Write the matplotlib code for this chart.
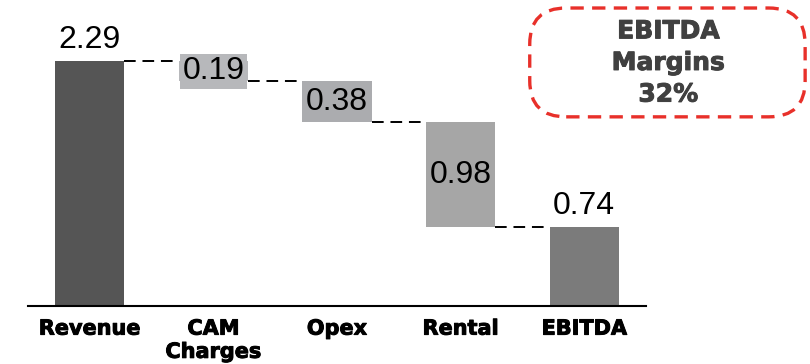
import matplotlib.pyplot as plt
import matplotlib.patheffects as pe
from matplotlib.patches import FancyBboxPatch

# data
cats = ['Revenue', 'CAM\nCharges', 'Opex', 'Rental', 'EBITDA']
vals = [2.29, 0.19, 0.38, 0.98, 0.74]
kinds = ['total', 'minus', 'minus', 'minus', 'total']
colors = ['#555555', '#b7b8bb', '#abacaf', '#a6a6a6', '#7b7b7b']
margin_text = 'EBITDA\nMargins\n32%'

fig = plt.figure(figsize=(8.1, 3.64), dpi=100)
ax = fig.add_axes([0.0346, 0.159, 0.763, 0.823])

num_font = ['Liberation Sans', 'DejaVu Sans']
width = 0.56
level = 0
bottoms = []
for i, (v, k) in enumerate(zip(vals, kinds)):
    if k == 'total':
        b = 0
        level = v
    else:
        level = level - v
        b = level
    bottoms.append(b)
    ax.bar(i, v, width, bottom=b, color=colors[i], zorder=2)
    if k == 'total':
        ax.text(i, b + v + 0.06, f'{v:.2f}', ha='center', va='bottom',
                fontsize=23, family=num_font, color='black')
    else:
        box = None
        if i == 1:
            box = dict(boxstyle='square,pad=0.08', fc=colors[i], ec='none')
        ax.text(i, b + v / 2, f'{v:.2f}', ha='center', va='center',
                fontsize=23, family=num_font, color='black', bbox=box, zorder=3)

# connectors
for i in range(len(vals) - 1):
    top = bottoms[i] + vals[i] if kinds[i] == 'total' else bottoms[i]
    ax.plot([i + width / 2, i + 1 - width / 2], [top, top], color='black',
            lw=1.4, linestyle=(0, (6, 3.5)), zorder=1)

ax.set_xlim(-0.5, 4.5)
ax.set_ylim(0, 2.8)
ax.set_xticks(range(len(cats)))
ax.set_xticklabels(cats, fontsize=15, fontweight='bold', family='DejaVu Sans',
                   linespacing=1.2)
for t in ax.get_xticklabels():
    t.set_path_effects([pe.withStroke(linewidth=0.7, foreground='black')])
ax.tick_params(axis='x', length=0, pad=9)
ax.set_yticks([])
for s in ['top', 'right', 'left']:
    ax.spines[s].set_visible(False)
ax.spines['bottom'].set_linewidth(1.5)

# EBITDA margin callout
patch = FancyBboxPatch((0.654, 0.679), 0.34, 0.299,
                       boxstyle='round,pad=0.0,rounding_size=0.045',
                       transform=fig.transFigure, fill=False, ec='#e8302a',
                       lw=2.4, linestyle=(0, (4, 2.5)), mutation_aspect=2.2)
fig.patches.append(patch)
fig.text(0.825, 0.827, margin_text, ha='center', va='center', fontsize=18,
         fontweight='bold', color='#404040', linespacing=1.4,
         path_effects=[pe.withStroke(linewidth=0.7, foreground='#404040')])

fig.savefig('out.png', dpi=100)
